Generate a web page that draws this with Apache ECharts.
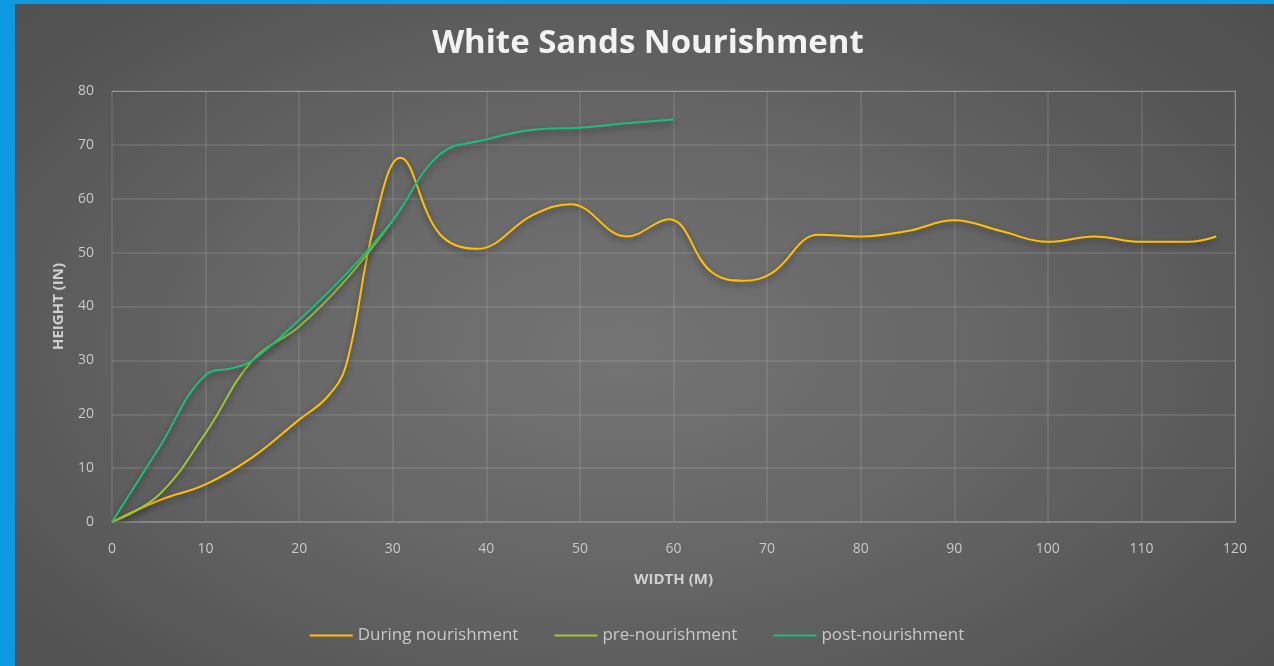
<!DOCTYPE html>
<html><head><meta charset="utf-8">
<script src="https://cdn.jsdelivr.net/npm/echarts@6/dist/echarts.min.js"></script>
<style>
html,body{margin:0;padding:0;width:1274px;height:666px;overflow:hidden;background:#0d9ae0;}
#bg{position:absolute;left:15px;top:4px;right:0;bottom:0;
background:radial-gradient(ellipse 75% 85% at 48% 52%, #747474 0%, #666 40%, #555 75%, #4c4c4c 100%);}
#chart{position:absolute;left:0;top:0;width:1274px;height:666px;}
</style></head><body>
<div id="bg"></div><div id="chart"></div>
<script>
const duringX = [0,5,10,15,20,23,25,28,30.8,35,39,45,49,55,59.5,64,67.5,70.5,75.5,80,85,90,95,100,105,110,115,118];
const duringY = [0,4,7,12,19,23.2,29,55,67.6,53.5,50.7,57,59,53,56.2,46.5,44.8,46.2,53.3,53,54,56,54,52,53,52,52,53];
const preX = [0,5,10,15,20,25,30];
const preY = [0,5,16.5,30,36.3,45,56];
const postX = [0,5,10,13,15,20,25,30,35,40,45,50,55,60];
const postY = [0,13.7,27.3,28.6,30,37.5,46,56,68.2,71,72.8,73.2,74,74.7];
const seriesNames = ['During nourishment','pre-nourishment','post-nourishment'];
const colors = ['#ffc000','#99c735','#1cbf78'];

function pairs(xs, ys){ return xs.map((x,i)=>[x, ys[i]]); }
const font = '"Open Sans", Lato, sans-serif';
const chart = echarts.init(document.getElementById('chart'));
const lineSeries = (name, data, color) => ({
  name, type:'line', data, smooth:0.4, symbol:'none', xAxisIndex:0, yAxisIndex:0,
  lineStyle:{color, width:2, shadowColor:'rgba(0,0,0,0.45)', shadowBlur:6, shadowOffsetY:3},
  itemStyle:{color}
});
chart.setOption({
  backgroundColor:'transparent',
  animation:false,
  title:{text:'White Sands Nourishment', left:643, top:22, textAlign:'center',
    textStyle:{color:'#f2f2f2', fontSize:33, fontWeight:'bold', fontFamily:font}},
  legend:{bottom:17, left:'center', itemWidth:43, itemHeight:2, itemGap:36, icon:'rect',
    textStyle:{color:'#c8c8c8', fontSize:17, fontFamily:font},
    data:seriesNames},
  grid:{left:112, right:39, top:91, bottom:144},
  xAxis:[{type:'value', min:0, max:120, interval:10,
    name:'WIDTH (M)', nameLocation:'middle', nameGap:50,
    nameTextStyle:{color:'#d0d0d0', fontSize:15, fontWeight:'bold', fontFamily:font},
    axisLine:{show:true, lineStyle:{color:'#858585', width:2}},
    axisTick:{show:false},
    axisLabel:{color:'#c8c8c8', fontSize:14, margin:20, fontFamily:font},
    splitLine:{show:true, lineStyle:{color:'rgba(255,255,255,0.13)', width:1.5}}},
   {type:'value', min:0, max:120, interval:10, position:'top',
    axisLine:{show:true, onZero:false, lineStyle:{color:'rgba(255,255,255,0.35)', type:'dotted', width:1}},
    axisTick:{show:false}, axisLabel:{show:false}, splitLine:{show:false}}],
  yAxis:[{type:'value', min:0, max:80, interval:10,
    name:'HEIGHT (IN)', nameLocation:'middle', nameGap:46, nameRotate:90,
    nameTextStyle:{color:'#d0d0d0', fontSize:15, fontWeight:'bold', fontFamily:font},
    axisLine:{show:false}, axisTick:{show:false},
    axisLabel:{color:'#c8c8c8', fontSize:14, margin:18, fontFamily:font},
    splitLine:{show:true, lineStyle:{color:'rgba(255,255,255,0.13)', width:1.5}}},
   {type:'value', min:0, max:80, interval:10, position:'right',
    axisLine:{show:true, onZero:false, lineStyle:{color:'rgba(255,255,255,0.35)', type:'dotted', width:1}},
    axisTick:{show:false}, axisLabel:{show:false}, splitLine:{show:false}}],
  series:[
    lineSeries(seriesNames[0], pairs(duringX,duringY), colors[0]),
    lineSeries(seriesNames[1], pairs(preX,preY), colors[1]),
    lineSeries(seriesNames[2], pairs(postX,postY), colors[2])
  ]
});
</script>
</body></html>
